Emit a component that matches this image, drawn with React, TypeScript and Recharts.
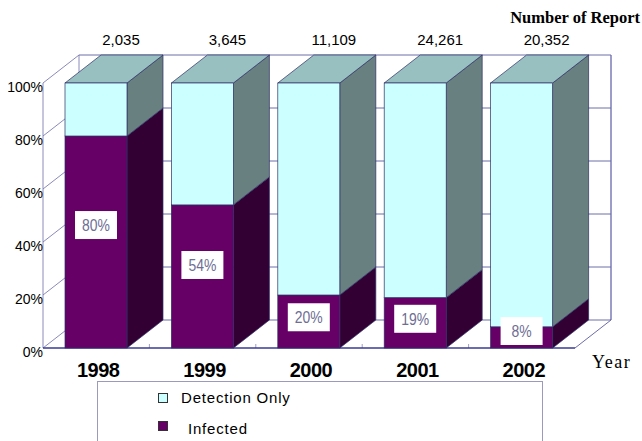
import React from 'react';
import { BarChart, Bar, XAxis, YAxis, CartesianGrid, Legend, LabelList } from 'recharts';

// Yearly share of reports, in percent
const years = ['1998', '1999', '2000', '2001', '2002'];
const infectedPct = [80, 54, 20, 19, 8];
const detectionOnlyPct = [20, 46, 80, 81, 92];
const reportCounts = ['2,035', '3,645', '11,109', '24,261', '20,352'];
const percentTicks = [0, 20, 40, 60, 80, 100];

const rows = years.map((year, i) => ({
  year,
  infected: infectedPct[i],
  detectionOnly: detectionOnlyPct[i],
  reports: reportCounts[i],
}));

// Oblique projection used for the depth of the boxes and the walls
const DX = 36;
const DY = -28;

const SANS = '"Liberation Sans", Arial, Helvetica, sans-serif';
const SERIF = '"Liberation Serif", "Times New Roman", Times, serif';

const WALL = '#6c6caa';
const FLOOR = '#3a3a94';
const EDGE = '#2e2e66';

const makeBox = (front: string, side: string, top: string | null) => (props: any) => {
  const { x, y, width, height } = props;
  if (x == null || width == null || height == null) return <g />;
  const r = x + width;
  const b = y + height;
  return (
    <g>
      <polygon
        points={`${r},${y} ${r + DX},${y + DY} ${r + DX},${b + DY} ${r},${b}`}
        fill={side}
        stroke={EDGE}
        strokeWidth={0.7}
      />
      {top && (
        <polygon
          points={`${x},${y} ${x + DX},${y + DY} ${r + DX},${y + DY} ${r},${y}`}
          fill={top}
          stroke={EDGE}
          strokeWidth={0.7}
        />
      )}
      <rect x={x} y={y} width={width} height={height} fill={front} stroke={EDGE} strokeWidth={0.7} />
    </g>
  );
};

const infectedBox = makeBox('#660066', '#330033', null);
const detectionBox = makeBox('#ccffff', '#688080', '#98c0c0');

// Each horizontal grid line becomes a side-wall diagonal plus a back-wall line;
// the floor line also carries the frame of the walls and floor.
const renderWallLine = (p: any) => {
  const { x1, y1, x2, index, y, height, width } = p;
  const bx1 = x1 + DX;
  const bx2 = x2 + DX;
  const by = y1 + DY;
  const top = y;
  const bottom = y + height;
  const isFloor = Math.abs(y1 - bottom) < 0.5;
  const n = years.length;
  return (
    <g key={`wall-${index}`}>
      <line x1={x1} y1={y1} x2={bx1} y2={by} stroke={WALL} strokeWidth={0.8} />
      <line x1={bx1} y1={by} x2={bx2} y2={by} stroke={WALL} strokeWidth={1} />
      {isFloor && (
        <g>
          <line x1={x1} y1={top} x2={x1} y2={bottom} stroke={WALL} strokeWidth={0.8} />
          <line x1={bx1} y1={top + DY} x2={bx1} y2={bottom + DY} stroke={WALL} strokeWidth={0.8} />
          <line x1={bx2} y1={top + DY} x2={bx2} y2={bottom + DY} stroke={FLOOR} strokeWidth={1} />
          <line x1={x2} y1={bottom} x2={bx2} y2={by} stroke={WALL} strokeWidth={1} />
          {Array.from({ length: n - 1 }, (_, i) => {
            const tx = x1 + ((i + 1) * width) / n;
            return <line key={i} x1={tx} y1={bottom - 4} x2={tx} y2={bottom} stroke="#8888aa" strokeWidth={0.8} />;
          })}
          <line x1={x1} y1={bottom} x2={x2} y2={bottom} stroke={FLOOR} strokeWidth={1.6} />
        </g>
      )}
    </g>
  );
};

const renderPercentTick = (p: any) => {
  const { x, y, payload } = p;
  return (
    <text x={x} y={y + 9} textAnchor="end" fontSize={14} fontFamily={SANS} fill="#000">
      {`${payload.value}%`}
    </text>
  );
};

const renderYearTick = (p: any) => {
  const { x, y, payload } = p;
  return (
    <text
      x={x + 2}
      y={y + 29}
      textAnchor="middle"
      fontSize={20}
      fontWeight="bold"
      letterSpacing={-0.5}
      fontFamily={SANS}
      fill="#000"
    >
      {payload.value}
    </text>
  );
};

const renderAxisTitles = (p: any) => {
  const vb = p.viewBox || {};
  const right = vb.x + vb.width;
  return (
    <g>
      <text x={right + 17} y={vb.y + 20} fontSize={18} letterSpacing={1.5} fontFamily={SERIF} fill="#000">
        Year
      </text>
      <text x={right + 65} y={vb.y - 325} textAnchor="end" fontSize={16.5} fontWeight="bold" fontFamily={SERIF} fill="#000">
        Number of Report
      </text>
    </g>
  );
};

const renderReportCount = (p: any) => {
  const { x, y, width, value } = p;
  return (
    <text x={x + width / 2 + 25} y={y - 38} textAnchor="middle" fontSize={15} fontFamily={SANS} fill="#000">
      {value}
    </text>
  );
};

// Share tag sits on the infected face; it is placed from the segment above so it stays on top.
const renderInfectedTag = (p: any) => {
  const { x, y, width, height, value, index } = p;
  const upper = rows[index].detectionOnly;
  const perUnit = height / upper;
  const segTop = y + height;
  const segHeight = value * perUnit;
  const segBottom = segTop + segHeight;
  const cy = Math.min(segTop + segHeight * 0.42, segBottom - 17);
  const cx = x + width / 2;
  return (
    <g>
      <rect x={cx - 21} y={cy - 14} width={42} height={28} fill="#ffffff" />
      <g transform={`translate(${cx},${cy + 6}) scale(0.82,1)`}>
        <text x={0} y={0} textAnchor="middle" fontSize={17} fontFamily={SANS} fill="#6e6e94">
          {`${value}%`}
        </text>
      </g>
    </g>
  );
};

const renderLegend = (p: any) => {
  const items = p.payload || [];
  const textLeft = [83, 90];
  return (
    <div
      style={{
        position: 'relative',
        width: 446,
        height: 60,
        boxSizing: 'border-box',
        border: '1px solid #9a9abc',
        borderBottom: 'none',
        background: '#fff',
      }}
    >
      {items.map((it: any, i: number) => (
        <React.Fragment key={it.value}>
          <span
            style={{
              position: 'absolute',
              left: 60,
              top: 11 + i * 28,
              width: 10,
              height: 10,
              boxSizing: 'border-box',
              border: '1px solid #333',
              background: it.color,
            }}
          />
          <span
            style={{
              position: 'absolute',
              left: textLeft[i],
              top: 8 + i * 31,
              fontSize: 15,
              lineHeight: '15px',
              letterSpacing: 0.8,
              fontFamily: SANS,
              color: '#000',
              whiteSpace: 'nowrap',
            }}
          >
            {it.value}
          </span>
        </React.Fragment>
      ))}
    </div>
  );
};

export default function App() {
  return (
    <div style={{ position: 'absolute', left: 0, top: 0, width: 642, height: 441, overflow: 'hidden', background: '#fff' }}>
      <BarChart
        width={642}
        height={441}
        data={rows}
        margin={{ top: 83, right: 67, bottom: 63, left: 0 }}
        barSize={62}
      >
        <CartesianGrid vertical={false} horizontal={renderWallLine} />
        <XAxis
          dataKey="year"
          axisLine={false}
          tickLine={false}
          tickSize={0}
          tickMargin={0}
          height={30}
          interval={0}
          tick={renderYearTick}
          label={renderAxisTitles}
        />
        <YAxis
          type="number"
          domain={[0, 100]}
          ticks={percentTicks}
          interval={0}
          width={43}
          axisLine={false}
          tickLine={false}
          tickSize={0}
          tickMargin={0}
          tick={renderPercentTick}
        />
        <Legend
          layout="horizontal"
          verticalAlign="middle"
          align="center"
          wrapperStyle={{ left: 97, top: 381, width: 446, height: 60 }}
          content={renderLegend}
        />
        <Bar dataKey="infected" name="Infected" stackId="share" fill="#660066" shape={infectedBox} isAnimationActive={false} />
        <Bar
          dataKey="detectionOnly"
          name="Detection Only"
          stackId="share"
          fill="#ccffff"
          shape={detectionBox}
          isAnimationActive={false}
        >
          <LabelList dataKey="reports" content={renderReportCount} />
          <LabelList dataKey="infected" content={renderInfectedTag} />
        </Bar>
      </BarChart>
    </div>
  );
}
